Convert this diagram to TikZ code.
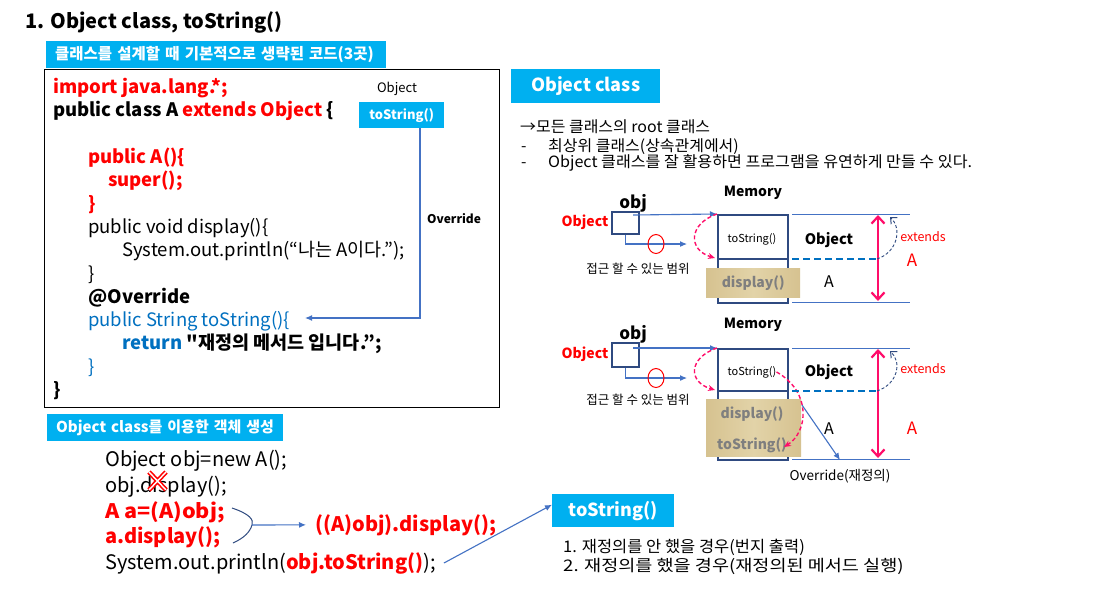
\documentclass[tikz,border=0pt]{standalone}
\usepackage{fontspec}
\setmainfont{Noto Sans CJK KR}[Ligatures=TeXOff]
\usetikzlibrary{arrows.meta,calc,shapes.geometric}

\definecolor{cyanbox}{HTML}{00B0F0}
\definecolor{jred}{HTML}{FF0000}
\definecolor{jblue}{HTML}{0070C0}
\definecolor{lnblue}{HTML}{4472C4}
\definecolor{navy}{HTML}{2F4A80}
\definecolor{hot}{HTML}{FF0D6A}
\definecolor{parch}{HTML}{D6C290}
\definecolor{parchlt}{HTML}{E2D3A8}
\definecolor{ptext}{HTML}{7F7F7F}

\newcommand{\fs}[1]{\fontsize{#1}{#1}\selectfont}
\newcommand{\widen}[1]{\addfontfeature{FakeStretch=#1}}

\tikzset{
  txt/.style={anchor=base west, inner sep=0pt},
  ctxt/.style={anchor=center, inner sep=0pt},
  code/.style={txt, font=\fs{18.5}},
  lowcode/.style={txt, font=\fs{20}},
  tag/.style={fill=cyanbox, text=white, anchor=north west, inner xsep=9pt, inner ysep=0pt, align=left},
  conn/.style={lnblue, line width=1.1pt, -{Latex[length=7pt,width=6pt]}},
  membox/.style={draw=navy, line width=2pt, anchor=north west, inner sep=0pt},
  refbox/.style={draw=navy, line width=1.1pt, inner sep=0pt},
  parchment/.style={left color=parch, right color=parch, middle color=parchlt, anchor=north west, inner sep=0pt},
  rim/.style={lnblue, line width=0.9pt},
  splitline/.style={jblue, line width=1.8pt, dash pattern=on 7pt off 4pt},
  hotcurve/.style={hot, line width=1.4pt, dash pattern=on 4pt off 2.5pt, -{Stealth[length=7pt,width=6pt]}},
  span/.style={hot, line width=2.4pt, {Straight Barb[length=7pt,width=13pt,line width=2.2pt]}-{Straight Barb[length=7pt,width=13pt,line width=2.2pt]}},
  extcurve/.style={navy, line width=0.9pt, dash pattern=on 3pt off 2pt, -{Straight Barb[length=5pt,width=9pt,line width=1pt]}},
  noentry/.style={draw=red, ellipse, line width=1pt, minimum width=16pt, minimum height=19pt, inner sep=0pt}
}

\begin{document}
\begin{tikzpicture}[x=1pt,y=-1pt]
\useasboundingbox (0,0) rectangle (1095,590);
\fill[white] (0,0) rectangle (1095,590);

% ---- heading
\node[txt, font=\fs{20}\bfseries] (title) at (25,28) {1. Object class, toString()};

% ---- class source box
\node[tag, text width=322pt, minimum height=27pt, font=\fs{15.5}\bfseries] (tag1) at (46,41) {클래스를 설계할 때 기본적으로 생략된 코드(3곳)};
\node[draw=black, line width=1.3pt, anchor=north west, minimum width=455pt, minimum height=338pt, inner sep=0pt] (srcbox) at (44,69) {};

\node[code, font=\fs{18.5}\bfseries, text=jred] (c1) at (53,93) {import java.lang.*;};
\node[code, font=\fs{18.5}\bfseries] (c2) at (53,116) {public class A {\color{jred}extends Object} \{};
\node[code, font=\fs{18.5}\bfseries, text=jred] (c3) at (88,163) {public A()\{};
\node[code, font=\fs{18.5}\bfseries, text=jred] (c4) at (108,186) {super();};
\node[code, font=\fs{18.5}\bfseries, text=jred] (c5) at (88,210) {\}};
\node[code] (c6) at (88,233) {public void display()\{};
\node[code] (c7) at (122,256) {System.out.println(“나는 A이다.”);};
\node[code] (c8) at (88,280) {\}};
\node[code, font=\fs{18.5}\bfseries] (c9) at (88,303) {@Override};
\node[code, text=jblue] (c10) at (88,326) {public String toString()\{};
\node[code, font=\fs{18.5}\bfseries] (c11) at (122,349) {{\color{jblue}return} "재정의 메서드 입니다.”;};
\node[code, text=jblue] (c12) at (88,373) {\}};
\node[code, font=\fs{18.5}\bfseries] (c13) at (53,396) {\}};

\node[ctxt, font=\fs{13}] (objlbl) at (397,89) {Object};
\node[fill=cyanbox, text=white, font=\fs{13}\bfseries, anchor=north west, minimum width=85pt, minimum height=26pt, inner sep=0pt] (ts0) at (359,102) {toString()};
\coordinate (ovr) at (305,318);
\draw[conn] (ts0.south -| 420,0) |- (ovr);
\node[txt, font=\fs{12}\bfseries] (ovrlbl) at (427,223) {Override};

% ---- object creation
\node[tag, text width=218pt, minimum height=27pt, font=\fs{15}\bfseries] (tag2) at (47,414) {Object class를 이용한 객체 생성};
\node[lowcode] (l1) at (105,466) {Object obj=new A();};
\node[lowcode] (l2) at (105,492) {obj.display();};
\node[lowcode, font=\fs{20}\bfseries\widen{1.08}, text=jred] (l3) at (105,518) {A a=(A)obj;};
\node[lowcode, font=\fs{20}\bfseries, text=jred] (l4) at (105,543) {a.display();};
\node[lowcode] (l5) at (105,569) {System.out.println({\bfseries\color{jred}obj.toString()});};
\draw[red, line width=1.6pt, double=white, double distance=1.4pt] (149,472) -- (166,490) (166,472) -- (149,490);

\coordinate (brT) at (232,508);
\coordinate (brM) at (252,525);
\coordinate (brB) at (233,543);
\draw[navy, line width=1pt] (brT) .. controls (250,514) and (254,520) .. (brM) .. controls (250,532) and (244,538) .. (brB);
\node[txt, font=\fs{20}\bfseries, text=jred] (cast) at (315,531) {((A)obj).display();};
\draw[conn] (brM) -- ($(cast.west)+(-9,0)$);

% ---- toString() note
\node[fill=cyanbox, text=white, font=\fs{18}\bfseries, anchor=north west, minimum width=122pt, minimum height=33pt, inner sep=0pt] (ts3) at (552,494) {toString()};
\draw[conn] ($(l5.base east)+(8,-6)$) -- ($(ts3.west)+(0,-6)$);
\node[txt, font=\fs{16}\widen{1.03}] (n1) at (563,552) {1. 재정의를 안 했을 경우(번지 출력)};
\node[txt, font=\fs{16}\widen{1.16}] (n2) at (563,571) {2. 재정의를 했을 경우(재정의된 메서드 실행)};

% ---- Object class notes
\node[fill=cyanbox, text=white, font=\fs{18}\bfseries, anchor=north west, minimum width=149pt, minimum height=34pt, inner sep=0pt] (objcls) at (511,69) {Object class};
\node[txt, font=\fs{15.5}\widen{1.03}] (b0) at (520,132) {→모든 클래스의 root 클래스};
\node[txt, font=\fs{15.5}] (d1) at (521,151) {-};
\node[txt, font=\fs{15.5}\widen{1.03}] (b1) at (548,151) {최상위 클래스(상속관계에서)};
\node[txt, font=\fs{15.5}] (d2) at (521,167) {-};
\node[txt, font=\fs{15.5}\widen{1.04}] (b2) at (548,167) {Object 클래스를 잘 활용하면 프로그램을 유연하게 만들 수 있다.};

% ---- memory diagram 1
\node[ctxt, font=\fs{14}\bfseries] (mem1) at (753,193) {Memory};
\node[ctxt, font=\fs{17}\bfseries] (obj1) at (633,203) {obj};
\node[ctxt, font=\fs{14}\bfseries, text=jred] (ol1) at (585,222) {Object};
\node[refbox, minimum width=27pt, minimum height=22pt] (ref1) at (625.5,223) {};
\node[membox, minimum width=70pt, minimum height=88pt] (box1) at (717,214) {};
\coordinate (ref1a) at (633,215);
\draw[conn] (ref1a) -- (box1.north west);
\coordinate (reach1) at (687,244);
\draw[conn] (ref1.south) |- (reach1);
\node[noentry] (no1) at (656,244) {};
\node[ctxt, font=\fs{12.5}] (acc1) at (638,269) {접근 할 수 있는 범위};
\draw[navy, line width=2pt] (717,259) -- (787,259);
\node[ctxt, font=\fs{11}] (tsa) at (752,239) {toString()};
\node[parchment, minimum width=94pt, minimum height=29pt] (par1) at (706,268) {};
\node[ctxt, font=\fs{14}\bfseries, text=ptext] (disp1) at (par1.center) {display()};
\draw[hotcurve] (box1.north west) .. controls (688,224) and (688,250) .. (715,258);
\draw[rim] (792,214) -- (910,214);
\draw[rim] (792,302) -- (910,302);
\draw[splitline] (792,259) -- (877,259);
\node[ctxt, font=\fs{14.5}\bfseries] (oa) at (829,240) {Object};
\node[ctxt, font=\fs{16}] (aa) at (829,282) {A};
\draw[span] (878,215) -- (878,301);
\draw[extcurve] (877,259) .. controls (898,252) and (902,228) .. (890,217);
\node[ctxt, font=\fs{12.5}, text=jred] (ext1) at (923,237) {extends};
\node[ctxt, font=\fs{17}, text=jred] (ra1) at (912,260) {A};

% ---- memory diagram 2
\node[ctxt, font=\fs{14}\bfseries] (mem2) at (753,325) {Memory};
\node[ctxt, font=\fs{17}\bfseries] (obj2) at (633,334) {obj};
\node[ctxt, font=\fs{14}\bfseries, text=jred] (ol2) at (585,354) {Object};
\node[refbox, minimum width=27pt, minimum height=24pt] (ref2) at (625.5,355) {};
\node[membox, minimum width=70pt, minimum height=111pt] (box2) at (717,348) {};
\coordinate (ref2a) at (633,348);
\draw[conn] (ref2a) -- (box2.north west);
\coordinate (reach2) at (687,378);
\draw[conn] (ref2.south) |- (reach2);
\node[noentry] (no2) at (656,378) {};
\node[ctxt, font=\fs{12.5}] (acc2) at (638,400) {접근 할 수 있는 범위};
\draw[navy, line width=2pt] (717,391) -- (787,391);
\node[ctxt, font=\fs{11}] (tsb) at (752,372) {toString()};
\node[parchment, minimum width=95pt, minimum height=57pt] (par2) at (706,399) {};
\node[ctxt, font=\fs{14}\bfseries, text=ptext] (disp2) at (752,414) {display()};
\node[ctxt, font=\fs{14}\bfseries, text=ptext] (tsc) at (752,445) {toString()};
\draw[hotcurve] (box2.north west) .. controls (688,358) and (688,382) .. (715,390);
\draw[hotcurve] (tsb.east) .. controls (812,392) and (808,432) .. (784,447);
\coordinate (ovs) at (802,405);
\coordinate (ove) at (840,460);
\draw[conn] (ovs) -- (ove);
\node[ctxt, font=\fs{13.5}] (ovl2) at (840,476) {Override(재정의)};
\draw[rim] (792,348) -- (910,348);
\draw[rim] (792,459) -- (910,459);
\draw[splitline] (792,391) -- (877,391);
\node[ctxt, font=\fs{14.5}\bfseries] (ob) at (829,372) {Object};
\node[ctxt, font=\fs{16}] (ab) at (829,429) {A};
\draw[span] (878,349) -- (878,458);
\draw[extcurve] (877,391) .. controls (898,384) and (902,362) .. (890,351);
\node[ctxt, font=\fs{12.5}, text=jred] (ext2) at (923,369) {extends};
\node[ctxt, font=\fs{17}, text=jred] (ra2) at (912,428) {A};
\end{tikzpicture}
\end{document}
